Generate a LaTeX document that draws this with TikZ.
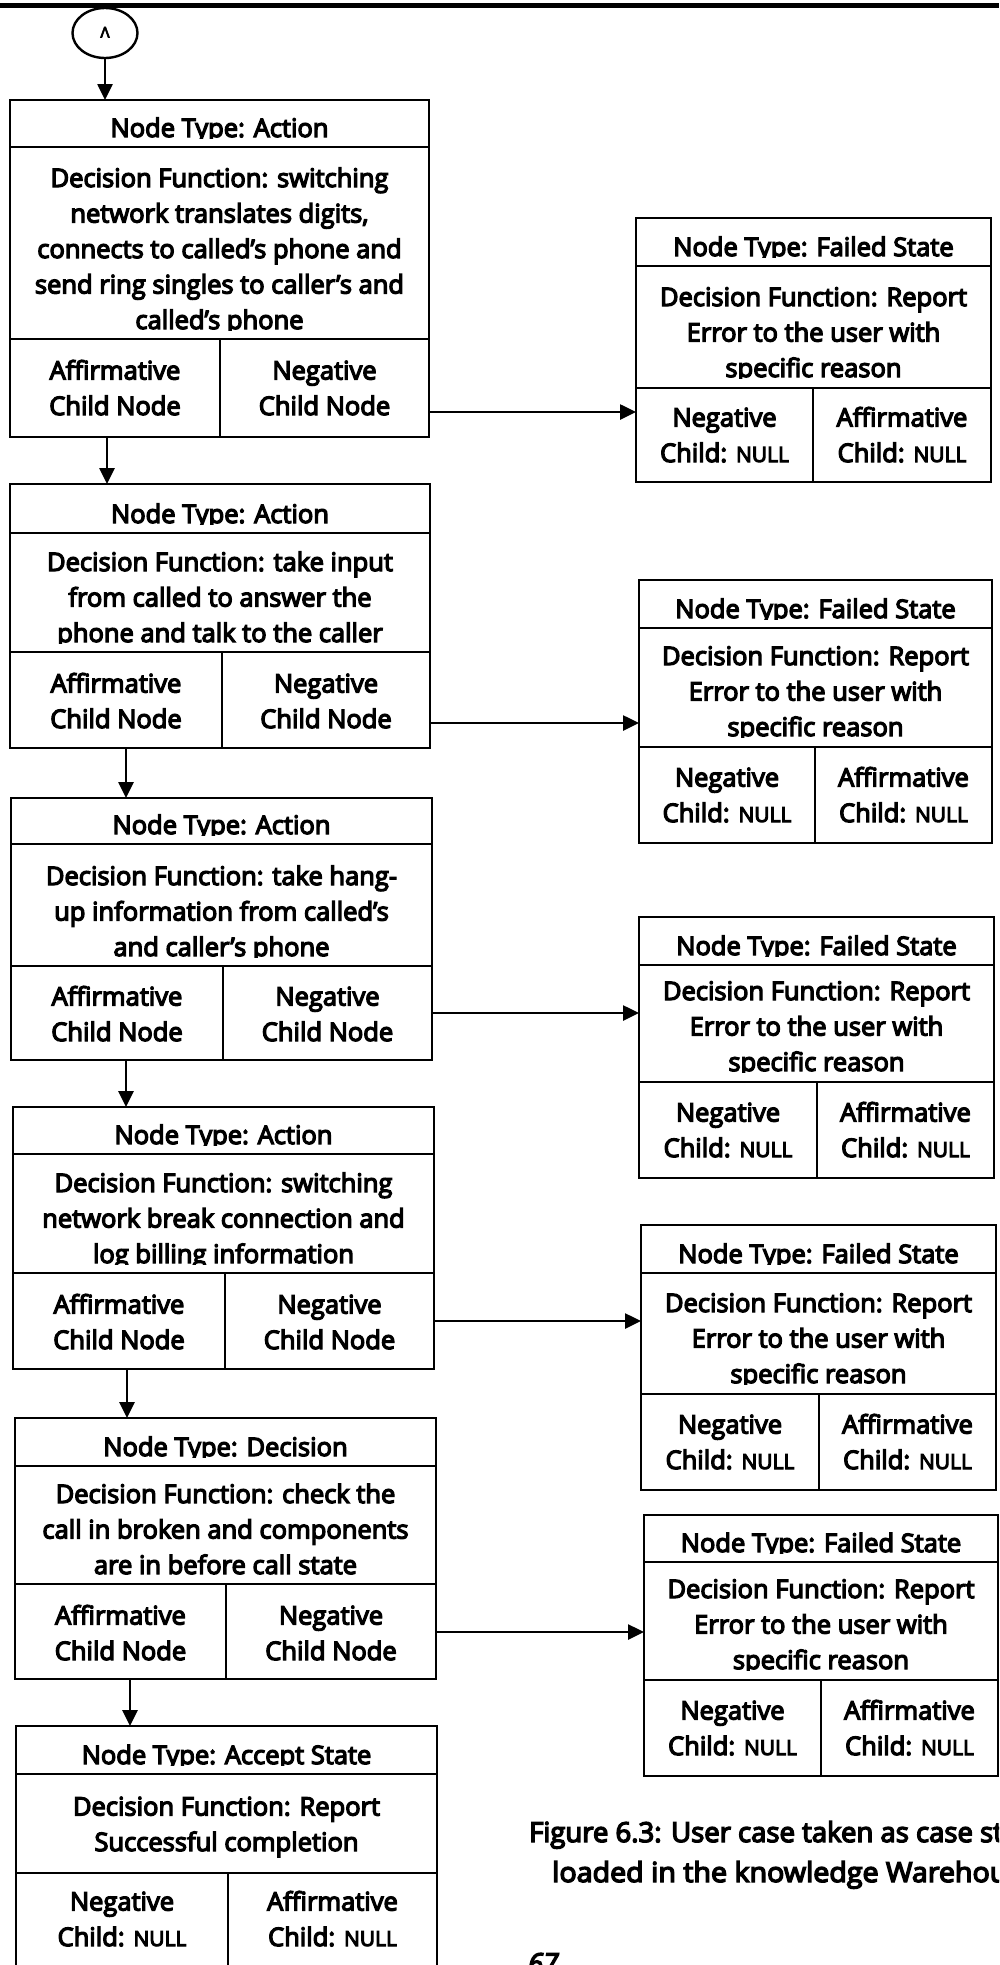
\documentclass[tikz,border=0pt]{standalone}
\usepackage{fontspec}
\newfontfamily\kwfont{Open Sans}[FakeBold=5]
\usetikzlibrary{arrows.meta,shapes.geometric}

\tikzset{
  frame/.style={draw, rectangle, line width=2.6pt, outer sep=0pt, inner sep=0pt},
  rule/.style={line width=2.6pt},
  arr/.style={line width=2.6pt, -{Triangle[length=16pt,width=15pt]}},
  txt/.style={font=\kwfont\fontsize{25.5}{35.5}\selectfont, align=center, inner sep=0pt, anchor=base},
  captxt/.style={font=\kwfont\fontsize{27.5}{41}\selectfont, inner sep=0pt, anchor=base west},
}

% frame of one tree node: name, left x, right x, divider x, top y, title rule y, function rule y, bottom y
\newcommand\kwframe[8]{%
  \node[frame, minimum width={#3-#2}, minimum height={#8-#5}, anchor=north west] (#1) at (#2,#5) {};
  \draw[rule] (#2,#6) -- (#3,#6) (#2,#7) -- (#3,#7) (#4,#7) -- (#4,#8);
}
% text of one cell, cut off below a given line: name, left x, right x, top y, cut y, last baseline y, text
\newcommand\kwtext[7]{%
  \begin{scope}
    \clip (#2,#4) rectangle (#3,#5);
    \node[txt] (#1) at ({(#2+#3)/2},#6) {#7};
  \end{scope}}

\newcommand\nullword{{\fontsize{21}{35.5}\selectfont NULL}}

\begin{document}
\begin{tikzpicture}[x=1pt,y=-1pt]
\useasboundingbox (0,0) rectangle (999,1965);
\clip (0,0) rectangle (999,1965);

% page rule
\draw[line width=5pt] (0,5.5) -- (999,5.5);

% connector circle
\node[draw, ellipse, line width=2.4pt, minimum width=65pt, minimum height=50pt, inner sep=0pt, outer sep=0pt,
      font=\kwfont\fontsize{15}{15}\selectfont] (start) at (105,33) {\raisebox{1.5pt}{Λ}};

% ---------- left column ----------
\kwframe{b1}{10}{429}{220}{100}{147}{339}{437}
\kwtext{b1t}{10}{429}{100}{138}{137}{Node Type: Action}
\kwtext{b1d}{10}{429}{147}{330}{329}{Decision Function: switching\\network translates digits,\\connects to called’s phone and\\send ring singles to caller’s and\\called’s phone}
\kwtext{b1a}{10}{220}{339}{437}{415}{Affirmative\\Child Node}
\kwtext{b1n}{220}{429}{339}{437}{415}{Negative\\Child Node}

\kwframe{b2}{10}{430}{222}{484}{533}{652}{748}
\kwtext{b2t}{10}{430}{484}{524}{523}{Node Type: Action}
\kwtext{b2d}{10}{430}{533}{643}{642}{Decision Function: take input\\from called to answer the\\phone and talk to the caller}
\kwtext{b2a}{10}{222}{652}{748}{728}{Affirmative\\Child Node}
\kwtext{b2n}{222}{430}{652}{748}{728}{Negative\\Child Node}

\kwframe{b3}{11}{432}{223}{798}{844}{966}{1060}
\kwtext{b3t}{11}{432}{798}{835}{834}{Node Type: Action}
\kwtext{b3d}{11}{432}{844}{957}{956}{Decision Function: take hang-\\up information from called’s\\and caller’s phone}
\kwtext{b3a}{11}{223}{966}{1060}{1041}{Affirmative\\Child Node}
\kwtext{b3n}{223}{432}{966}{1060}{1041}{Negative\\Child Node}

\kwframe{b4}{13}{434}{225}{1107}{1154}{1273}{1369}
\kwtext{b4t}{13}{434}{1107}{1145}{1144}{Node Type: Action}
\kwtext{b4d}{13}{434}{1154}{1264}{1263}{Decision Function: switching\\network break connection and\\log billing information}
\kwtext{b4a}{13}{225}{1273}{1369}{1349}{Affirmative\\Child Node}
\kwtext{b4n}{225}{434}{1273}{1369}{1349}{Negative\\Child Node}

\kwframe{b5}{15}{436}{226}{1418}{1466}{1584}{1679}
\kwtext{b5t}{15}{436}{1418}{1457}{1456}{Node Type: Decision}
\kwtext{b5d}{15}{436}{1466}{1575}{1574}{Decision Function: check the\\call in broken and components\\are in before call state}
\kwtext{b5a}{15}{226}{1584}{1679}{1660}{Affirmative\\Child Node}
\kwtext{b5n}{226}{436}{1584}{1679}{1660}{Negative\\Child Node}

\kwframe{b6}{16}{437}{228}{1726}{1774}{1873}{1985}
\kwtext{b6t}{16}{437}{1726}{1765}{1764}{Node Type: Accept State}
\kwtext{b6d}{16}{437}{1774}{1873}{1851}{Decision Function: Report\\Successful completion}
\kwtext{b6n}{16}{228}{1873}{1985}{1946}{Negative\\Child: \nullword}
\kwtext{b6a}{228}{437}{1873}{1985}{1946}{Affirmative\\Child: \nullword}

% ---------- right column ----------
\kwframe{r1}{636}{991}{813}{218}{266}{388}{482}
\kwtext{r1t}{636}{991}{218}{257}{256}{Node Type: Failed State}
\kwtext{r1d}{636}{991}{266}{378}{377}{Decision Function: Report\\Error to the user with\\specific reason}
\kwtext{r1n}{636}{813}{388}{482}{462}{Negative\\Child: \nullword}
\kwtext{r1a}{813}{991}{388}{482}{462}{Affirmative\\Child: \nullword}

\kwframe{r2}{639}{992}{815}{580}{628}{747}{843}
\kwtext{r2t}{639}{992}{580}{619}{618}{Node Type: Failed State}
\kwtext{r2d}{639}{992}{628}{737}{736}{Decision Function: Report\\Error to the user with\\specific reason}
\kwtext{r2n}{639}{815}{747}{843}{822}{Negative\\Child: \nullword}
\kwtext{r2a}{815}{992}{747}{843}{822}{Affirmative\\Child: \nullword}

\kwframe{r3}{639}{994}{817}{917}{965}{1082}{1178}
\kwtext{r3t}{639}{994}{917}{956}{955}{Node Type: Failed State}
\kwtext{r3d}{639}{994}{965}{1072}{1071}{Decision Function: Report\\Error to the user with\\specific reason}
\kwtext{r3n}{639}{817}{1082}{1178}{1157}{Negative\\Child: \nullword}
\kwtext{r3a}{817}{994}{1082}{1178}{1157}{Affirmative\\Child: \nullword}

\kwframe{r4}{641}{996}{819}{1225}{1273}{1394}{1490}
\kwtext{r4t}{641}{996}{1225}{1264}{1263}{Node Type: Failed State}
\kwtext{r4d}{641}{996}{1273}{1384}{1383}{Decision Function: Report\\Error to the user with\\specific reason}
\kwtext{r4n}{641}{819}{1394}{1490}{1469}{Negative\\Child: \nullword}
\kwtext{r4a}{819}{996}{1394}{1490}{1469}{Affirmative\\Child: \nullword}

\kwframe{r5}{644}{998}{821}{1515}{1562}{1680}{1776}
\kwtext{r5t}{644}{998}{1515}{1553}{1552}{Node Type: Failed State}
\kwtext{r5d}{644}{998}{1562}{1670}{1669}{Decision Function: Report\\Error to the user with\\specific reason}
\kwtext{r5n}{644}{821}{1680}{1776}{1755}{Negative\\Child: \nullword}
\kwtext{r5a}{821}{998}{1680}{1776}{1755}{Affirmative\\Child: \nullword}

% ---------- connectors ----------
\coordinate (d0) at (105,0);
\coordinate (d1) at (107,0);
\coordinate (d2) at (126,0);
\coordinate (d3) at (126,0);
\coordinate (d4) at (127,0);
\coordinate (d5) at (130,0);
\draw[arr] (start.south) -- (b1.north -| d0);
\draw[arr] (b1.south -| d1) -- (b2.north -| d1);
\draw[arr] (b2.south -| d2) -- (b3.north -| d2);
\draw[arr] (b3.south -| d3) -- (b4.north -| d3);
\draw[arr] (b4.south -| d4) -- (b5.north -| d4);
\draw[arr] (b5.south -| d5) -- (b6.north -| d5);

\coordinate (n1) at (0,412);
\coordinate (n2) at (0,723);
\coordinate (n3) at (0,1013);
\coordinate (n4) at (0,1321);
\coordinate (n5) at (0,1632);
\draw[arr] (b1.east |- n1) -- (r1.west |- n1);
\draw[arr] (b2.east |- n2) -- (r2.west |- n2);
\draw[arr] (b3.east |- n3) -- (r3.west |- n3);
\draw[arr] (b4.east |- n4) -- (r4.west |- n4);
\draw[arr] (b5.east |- n5) -- (r5.west |- n5);

% ---------- caption and page number ----------
\node[captxt] (cap1) at (529,1842) {Figure 6.3: User case taken as case st};
\begin{scope}[shift={(552,1882)}, xscale=1.04]
  \node[captxt, transform shape] (cap2) at (0,0) {loaded in the knowledge Warehou};
\end{scope}
\node[captxt, font=\kwfont\itshape\fontsize{27.5}{41}\selectfont] (page) at (528,1973) {67};
\end{tikzpicture}
\end{document}
